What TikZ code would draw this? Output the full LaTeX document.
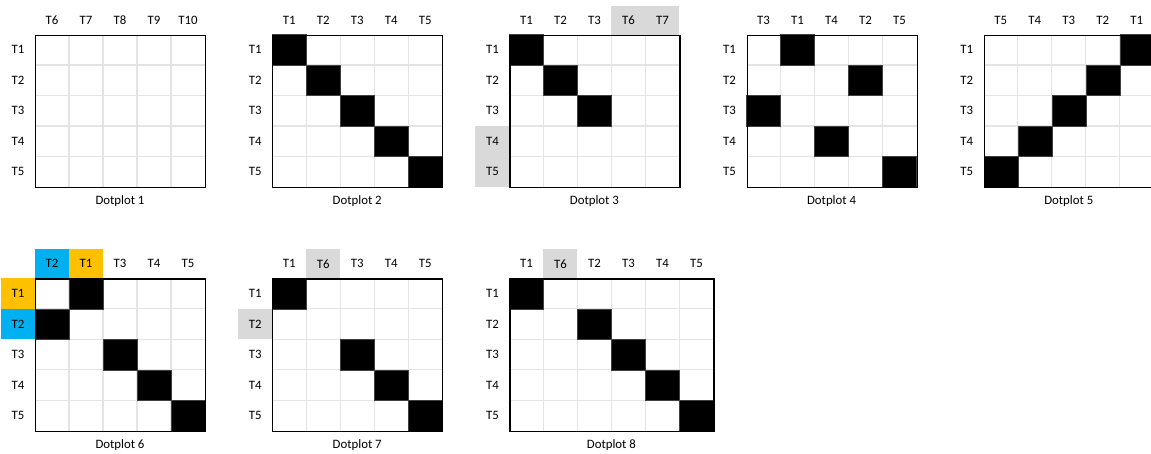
\documentclass[tikz,border=0pt]{standalone}
\usepackage{fontspec}
\setmainfont{Carlito}
\definecolor{gridgray}{HTML}{E4E4E4}
\definecolor{hgray}{HTML}{D9D9D9}
\definecolor{horange}{HTML}{FFC000}
\definecolor{hblue}{HTML}{00B0F0}
\tikzset{
 lbltxt/.style={inner sep=0, minimum width=34pt, minimum height=29pt, font=\fontsize{12.8}{14}\selectfont, anchor=center},
 captxt/.style={inner sep=0, font=\fontsize{12.8}{14}\selectfont},
 gridln/.style={draw=gridgray, line width=1.2pt},
 gridframe/.style={draw=black, line width=1.2pt},
 blackcell/.style={fill=black, draw=black!75, line width=0.6pt, minimum width=34pt, minimum height=30.5pt, inner sep=0}
}
\newcommand\dplot[8]{%
\begin{scope}[shift={(#2,#3)}]
\pgfmathsetmacro\gw{34*#4}
\foreach \l/\c [count=\i] in {#5} \node[lbltxt,fill=\c] (#1-c\i) at ({(\i-0.5)*34},-14.5) {\l};
\foreach \l/\c [count=\i] in {#6} \node[lbltxt,fill=\c,minimum height=30.5pt] (#1-r\i) at (-17,{(\i-0.5)*30.5}) {\l};
\foreach \i in {1,...,4} \draw[gridln] (0,{\i*30.5}) -- (\gw,{\i*30.5});
\pgfmathtruncatemacro\nm{#4-1}
\foreach \i in {1,...,\nm} \draw[gridln] ({\i*34},0) -- ({\i*34},152.5);
\if\relax\detokenize{#7}\relax\else
\foreach \r/\c in {#7} \node[blackcell] (#1-d\r\c) at ({(\c-0.5)*34},{(\r-0.5)*30.5}) {};
\fi
\node[gridframe, minimum width=\gw pt, minimum height=152.5pt, inner sep=0, anchor=north west] (#1) at (0,0) {};
\node[captxt] (#1-cap) at (\gw/2, 167) {Dotplot #8};
\end{scope}}
\begin{document}
\begin{tikzpicture}[x=1pt,y=-1pt]
\useasboundingbox[fill=white] (0,0) rectangle (1151,453);
\dplot{p1}{35}{34.5}{5}{T6/none,T7/none,T8/none,T9/none,T10/none}{T1/none,T2/none,T3/none,T4/none,T5/none}{}{1}
\dplot{p2}{272.2}{34.5}{5}{T1/none,T2/none,T3/none,T4/none,T5/none}{T1/none,T2/none,T3/none,T4/none,T5/none}{1/1,2/2,3/3,4/4,5/5}{2}
\dplot{p3}{509.4}{34.5}{5}{T1/none,T2/none,T3/none,T6/hgray,T7/hgray}{T1/none,T2/none,T3/none,T4/hgray,T5/hgray}{1/1,2/2,3/3}{3}
\dplot{p4}{746.6}{34.5}{5}{T3/none,T1/none,T4/none,T2/none,T5/none}{T1/none,T2/none,T3/none,T4/none,T5/none}{1/2,2/4,3/1,4/3,5/5}{4}
\dplot{p5}{983.8}{34.5}{5}{T5/none,T4/none,T3/none,T2/none,T1/none}{T1/none,T2/none,T3/none,T4/none,T5/none}{1/5,2/4,3/3,4/2,5/1}{5}
\dplot{p6}{35}{278.3}{5}{T2/hblue,T1/horange,T3/none,T4/none,T5/none}{T1/horange,T2/hblue,T3/none,T4/none,T5/none}{1/2,2/1,3/3,4/4,5/5}{6}
\dplot{p7}{272.2}{278.3}{5}{T1/none,T6/hgray,T3/none,T4/none,T5/none}{T1/none,T2/hgray,T3/none,T4/none,T5/none}{1/1,3/3,4/4,5/5}{7}
\dplot{p8}{509.4}{278.3}{6}{T1/none,T6/hgray,T2/none,T3/none,T4/none,T5/none}{T1/none,T2/none,T3/none,T4/none,T5/none}{1/1,2/3,3/4,4/5,5/6}{8}
\end{tikzpicture}
\end{document}
